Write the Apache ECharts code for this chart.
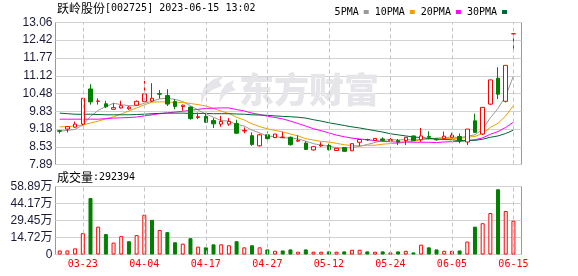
<!DOCTYPE html>
<html><head><meta charset="utf-8">
<script src="https://cdn.jsdelivr.net/npm/echarts@6/dist/echarts.min.js"></script>
<style>html,body{margin:0;padding:0;background:#fff}#c{width:578px;height:276px}</style>
</head><body><div id="c"></div>
<script>
const dates = ['03-20','03-21','03-22','03-23','03-24','03-27','03-28','03-29','03-30','03-31',
'04-03','04-04','04-06','04-07','04-10','04-11','04-12','04-13','04-14','04-17',
'04-18','04-19','04-20','04-21','04-24','04-25','04-26','04-27','04-28','05-04',
'05-05','05-08','05-09','05-10','05-11','05-12','05-15','05-16','05-17','05-18',
'05-19','05-22','05-23','05-24','05-25','05-26','05-29','05-30','05-31','06-01',
'06-02','06-05','06-06','06-07','06-08','06-09','06-12','06-13','06-14','06-15'];
const tickDates = ['03-23','04-04','04-17','04-27','05-12','05-24','06-05','06-15'];

const open = [9.12,9.18,9.25,9.36,10.64,10.19,10.10,9.90,9.95,9.92,
10.05,10.18,10.20,10.47,10.40,10.18,10.00,9.98,9.60,9.64,
9.49,9.36,9.36,9.38,9.11,8.94,8.57,8.97,8.87,8.87,
8.88,8.74,8.67,8.42,8.57,8.58,8.40,8.51,8.39,8.70,
8.80,8.76,8.82,8.77,8.76,8.76,8.93,8.79,8.91,8.81,
8.83,8.88,8.91,8.71,9.48,9.00,10.09,11.03,10.19,12.65];
const close = [9.10,9.27,9.36,10.30,10.17,10.20,9.99,9.96,10.03,9.98,
10.19,10.46,10.30,10.45,10.09,10.00,10.05,9.56,9.63,9.43,
9.37,9.46,9.46,9.03,9.13,8.62,8.97,8.83,9.00,8.89,
8.61,8.77,8.44,8.54,8.60,8.43,8.48,8.37,8.65,8.80,
8.79,8.84,8.77,8.79,8.71,8.88,8.76,8.93,8.88,8.79,
8.92,8.96,8.75,9.18,9.06,9.97,10.97,10.45,11.50,12.65];
const low = [9.02,9.06,9.23,9.31,10.07,10.07,9.95,9.88,9.93,9.88,
10.03,10.16,10.18,10.29,10.02,9.90,9.85,9.52,9.54,9.40,
9.22,9.27,9.30,9.00,9.03,8.57,8.54,8.79,8.85,8.86,
8.58,8.72,8.42,8.40,8.53,8.40,8.39,8.35,8.38,8.56,
8.75,8.74,8.74,8.75,8.60,8.60,8.75,8.72,8.80,8.76,
8.81,8.86,8.66,8.60,9.04,8.97,10.06,10.27,10.15,12.07];
const high = [9.15,9.28,9.45,10.30,10.81,10.30,10.21,10.12,10.21,10.02,
10.22,10.93,10.85,10.60,10.63,10.27,10.07,10.00,9.78,9.73,
9.58,9.66,9.58,9.52,9.24,9.06,9.01,9.09,9.00,9.07,
8.91,8.95,8.73,8.55,8.70,8.65,8.49,8.52,8.65,8.81,
8.83,8.85,8.88,8.86,8.82,8.89,8.94,9.22,9.10,8.84,
9.09,9.05,9.02,9.18,9.74,9.97,10.97,11.43,11.50,12.65];

const ma5 = [9.11,9.13,9.17,9.33,9.64,9.86,10.00,10.12,10.07,10.03,
10.03,10.12,10.19,10.28,10.30,10.26,10.18,10.03,9.87,9.73,
9.61,9.49,9.47,9.35,9.29,9.14,9.04,8.92,8.91,8.86,
8.86,8.82,8.74,8.65,8.59,8.56,8.50,8.48,8.51,8.55,
8.62,8.69,8.77,8.80,8.78,8.80,8.78,8.81,8.83,8.85,
8.86,8.90,8.86,8.92,8.97,9.18,9.59,9.93,10.39,11.11];
const ma10 = [9.26,9.27,9.29,9.33,9.40,9.47,9.55,9.63,9.73,9.84,
9.95,10.06,10.16,10.17,10.17,10.15,10.15,10.11,10.07,10.02,
9.93,9.83,9.75,9.61,9.51,9.37,9.27,9.19,9.13,9.08,
9.00,8.93,8.83,8.78,8.73,8.71,8.66,8.61,8.58,8.57,
8.59,8.59,8.63,8.65,8.66,8.71,8.74,8.79,8.82,8.81,
8.83,8.84,8.84,8.88,8.91,9.02,9.24,9.39,9.66,10.04];
const ma20 = [9.54,9.54,9.54,9.54,9.54,9.54,9.56,9.58,9.59,9.60,
9.62,9.66,9.70,9.74,9.77,9.80,9.83,9.86,9.90,9.93,
9.94,9.95,9.95,9.89,9.84,9.76,9.71,9.65,9.60,9.55,
9.47,9.38,9.29,9.19,9.12,9.04,8.96,8.90,8.85,8.82,
8.79,8.76,8.73,8.72,8.70,8.71,8.70,8.70,8.70,8.69,
8.71,8.72,8.73,8.76,8.79,8.86,8.99,9.09,9.24,9.43];
const ma30 = [9.76,9.74,9.72,9.72,9.72,9.71,9.70,9.70,9.70,9.70,
9.71,9.72,9.74,9.75,9.76,9.76,9.76,9.75,9.75,9.75,
9.74,9.74,9.74,9.73,9.72,9.70,9.69,9.68,9.66,9.64,
9.63,9.61,9.58,9.52,9.47,9.41,9.36,9.31,9.26,9.22,
9.17,9.12,9.07,9.01,8.97,8.93,8.89,8.87,8.84,8.82,
8.80,8.79,8.76,8.77,8.77,8.81,8.88,8.93,9.02,9.14];

const volume = [35000,35000,53000,185000,489000,241000,177000,103000,159000,115000,
168000,344000,300000,212000,194000,106000,94000,141000,68000,62000,
88000,88000,80000,115000,62000,80000,62000,44000,32000,35000,
44000,24000,44000,24000,24000,27000,24000,27000,41000,41000,
27000,24000,27000,18000,27000,32000,18000,85000,62000,44000,
32000,32000,35000,112000,241000,271000,359000,565000,377000,292394];
const volDir = [1,1,1,1,-1,1,-1,1,1,-1,
1,1,-1,1,-1,-1,1,-1,1,-1,
-1,1,1,-1,1,-1,1,-1,1,-1,
-1,1,-1,1,1,-1,1,-1,1,1,
-1,1,-1,1,-1,1,-1,1,-1,-1,
1,1,-1,1,-1,1,1,-1,1,1];

const priceTicks = [7.89,8.53,9.18,9.83,10.48,11.12,11.77,12.42,13.06];
const priceTickLabels = ['7.89','8.53','9.18','9.83','10.48','11.12','11.77','12.42','13.06'];
const volTicks = [0,147200,294500,441700,588900];
const volTickLabels = ['0','14.72万','29.45万','44.17万','58.89万'];
const titleName = '跃岭股份';
const titleInfo = '[002725] 2023-06-15 13:02';
const volName = '成交量';
const volInfo = ':292394';
const watermark = '东方财富';

const RED = '#ff0000', GREEN = '#008000';
const labelIdx = tickDates.map(d => dates.indexOf(d));
const candleData = dates.map((d, i) => [i, open[i], close[i], low[i], high[i]]);
const volData = dates.map((d, i) => ({
  value: [i, volume[i]],
  itemStyle: volDir[i] > 0 ? {color: '#ffffff', borderColor: RED, borderWidth: 1}
                           : {color: GREEN, borderColor: GREEN, borderWidth: 1}
}));
const dashLines = () => ({
  silent: true, symbol: ['none', 'none'], label: {show: false},
  lineStyle: {color: '#c4c4c4', width: 1, type: [4, 3]},
  data: labelIdx.map(v => ({xAxis: v}))
});
const maLine = (name, arr, color) => ({
  name, type: 'line', xAxisIndex: 0, yAxisIndex: 0,
  data: arr.map((v, i) => [i, v]), symbol: 'none', showSymbol: false,
  lineStyle: {width: 1, color}, itemStyle: {color}, silent: true, z: 3
});

const xBase = (gi) => ({
  type: 'value', gridIndex: gi, min: -0.55, max: 60.05,
  axisLine: {show: false},
  axisTick: {show: false, customValues: labelIdx},
  splitLine: {show: false}
});

const chart = echarts.init(document.getElementById('c'), null, {renderer: 'canvas'});
chart.setOption({
  animation: false,
  backgroundColor: '#ffffff',
  grid: [
    {left: 55.5, top: 22.5, width: 466, height: 142, show: true, borderColor: '#999999', borderWidth: 1, backgroundColor: 'transparent'},
    {left: 55.5, top: 186.5, width: 466, height: 68, show: true, borderColor: '#999999', borderWidth: 1, backgroundColor: 'transparent'}
  ],
  xAxis: [
    Object.assign(xBase(0), {axisLabel: {show: false}}),
    Object.assign(xBase(1), {axisLabel: {show: true, customValues: labelIdx, formatter: v => dates[Math.round(v)],
      color: RED, fontFamily: 'DejaVu Sans Mono', fontSize: 10, margin: 5}})
  ],
  yAxis: [
    {type: 'value', gridIndex: 0, min: 7.89, max: 13.06, scale: true,
     axisLine: {show: false}, axisTick: {show: false, customValues: priceTicks},
     axisLabel: {customValues: priceTicks, formatter: v => { const k = priceTicks.indexOf(v); return k >= 0 ? priceTickLabels[k] : v.toFixed(2); },
       color: '#1a1a3a', fontFamily: 'Liberation Sans', fontSize: 12, margin: 3},
     splitLine: {show: true, lineStyle: {color: '#d2d2d2', width: 1}}},
    {type: 'value', gridIndex: 1, min: 0, max: 588900,
     axisLine: {show: false}, axisTick: {show: false, customValues: volTicks},
     axisLabel: {customValues: volTicks, formatter: v => { const k = volTicks.indexOf(v); return k >= 0 ? volTickLabels[k] : ''; },
       color: '#1a1a3a', fontFamily: 'Liberation Sans, Noto Sans CJK SC', fontSize: 12, margin: 3},
     splitLine: {show: true, lineStyle: {color: '#d2d2d2', width: 1}}}
  ],
  legend: {
    data: ['5PMA', '10PMA', '20PMA', '30PMA'], right: 66, top: 2, align: 'right',
    icon: 'rect', itemWidth: 5, itemHeight: 4, itemGap: 6, selectedMode: false,
    textStyle: {fontFamily: 'DejaVu Sans Mono', fontSize: 10, color: '#000'}
  },
  graphic: [
    {type: 'text', left: 57, top: 2, z: 10, style: {
      text: '{a|' + titleName + '}{b|' + titleInfo + '}',
      rich: {a: {fontFamily: 'Noto Sans CJK SC', fontSize: 12, fill: '#000', verticalAlign: 'middle'},
             b: {fontFamily: 'DejaVu Sans Mono', fontSize: 10, fill: '#000', verticalAlign: 'middle'}}}},
    {type: 'text', left: 57, top: 171, z: 10, style: {
      text: '{a|' + volName + '}{b|' + volInfo + '}',
      rich: {a: {fontFamily: 'Noto Sans CJK SC', fontSize: 12, fill: '#000', verticalAlign: 'middle'},
             b: {fontFamily: 'DejaVu Sans Mono', fontSize: 10, fill: '#000', verticalAlign: 'middle'}}}},
    {type: 'polygon', z: 1, silent: true,
      shape: {points: [[226,75],[214,79],[205,86],[201,95],[201,104],[205,96],[212,90],[222,86],[219,81]]},
      style: {fill: '#e6e6ea'}},
    {type: 'polygon', z: 1, silent: true,
      shape: {points: [[234,80],[226,84],[221,91],[219,103],[224,96],[229,92],[236,90],[232,86]]},
      style: {fill: '#e6e6ea'}},
    {type: 'text', left: 239, top: 72, z: 1, silent: true, style: {
      text: watermark, fontFamily: 'Noto Sans CJK SC', fontWeight: 900, fontSize: 35, fill: '#e6e6ea'}}
  ],
  series: [
    {name: 'K', type: 'candlestick', xAxisIndex: 0, yAxisIndex: 0, data: candleData, barWidth: 4, z: 4,
     itemStyle: {color: '#ffffff', color0: GREEN, borderColor: RED, borderColor0: GREEN, borderColorDoji: RED, borderWidth: 1},
     markLine: dashLines()},
    maLine('5PMA', ma5, '#999999'),
    maLine('10PMA', ma10, '#f0a000'),
    maLine('20PMA', ma20, '#ff00ff'),
    maLine('30PMA', ma30, '#006633'),
    {name: 'VOL', type: 'bar', xAxisIndex: 1, yAxisIndex: 1, data: volData, barWidth: 4, z: 4,
     markLine: dashLines()}
  ]
});
</script>
</body></html>
